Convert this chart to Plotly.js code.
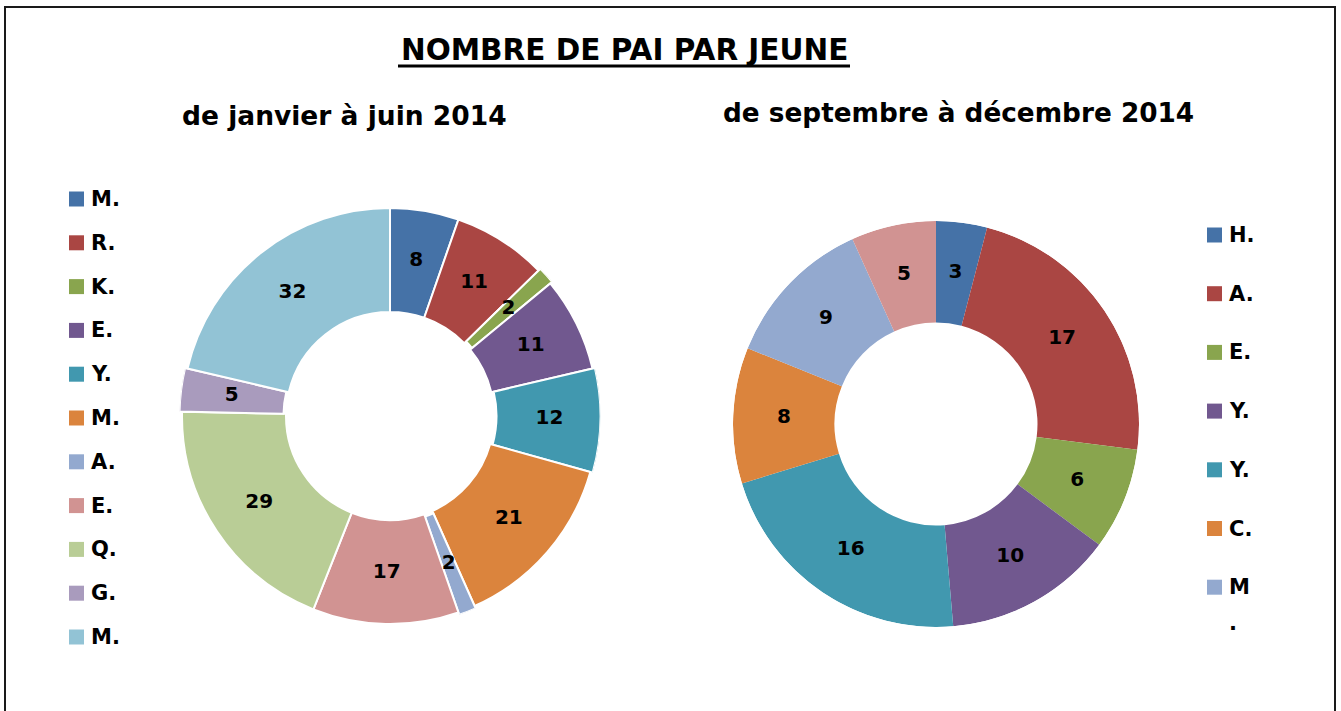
<!DOCTYPE html>
<html><head><meta charset="utf-8">
<script src="https://cdn.plot.ly/plotly-3.0.1.min.js"></script>
<style>html,body{margin:0;padding:0;background:#fff}#chart{width:1341px;height:711px}</style>
</head><body><div id="chart"></div>
<script>
// ---- data ----
const chartTitle = 'NOMBRE DE PAI PAR JEUNE';
const leftTitle = 'de janvier à juin 2014';
const rightTitle = 'de septembre à décembre 2014';
const leftLabels = ['M.', 'R.', 'K.', 'E.', 'Y.', 'M.', 'A.', 'E.', 'Q.', 'G.', 'M.'];
const leftValues = [8, 11, 2, 11, 12, 21, 2, 17, 29, 5, 32];
const rightLabels = ['H.', 'A.', 'E.', 'Y.', 'Y.', 'C.', 'M.']; // legend in source is cut after the 7th entry
const rightValues = [3, 17, 6, 10, 16, 8, 9, 5];

// ---- styles ----
const palette = ['#4572A7', '#AA4643', '#89A54E', '#71588F', '#4198AF', '#DB843D',
                 '#93A9CF', '#D19392', '#B9CD96', '#A99BBD', '#92C3D5'];
const leftColors = palette.slice(0, leftValues.length);
const rightColors = palette.slice(0, rightValues.length);
const leftPull = [0, 0, 0.012, 0, 0.012, 0, 0.012, 0, 0, 0.012, 0];
const rightPull = rightValues.map(() => 0);

const W = 1341, H = 711;
const FONT = 'DejaVu Sans, Verdana, sans-serif';
const HOLE = 0.5;
const px = x => x / W;
const py = y => 1 - y / H;

// donut slices: angular position/size on the polar angular axis, from the values
function sliceAngles(values) {
  const total = values.reduce((a, b) => a + b, 0);
  let cum = 0;
  const theta = [], width = [];
  values.forEach(v => {
    const w = v / total * 360;
    theta.push(cum + w / 2); width.push(w); cum += w;
  });
  return { theta, width };
}

function donut(values, colors, pull, subplot, lineW, labelR) {
  const a = sliceAngles(values);
  return [
    {
      type: 'barpolar', subplot: subplot,
      theta: a.theta, width: a.width,
      r: values.map(() => 1 - HOLE), base: pull.map(p => HOLE + p),
      marker: { color: colors, line: { color: '#fff', width: lineW } },
      hoverinfo: 'none', showlegend: false
    },
    {
      type: 'scatterpolar', subplot: subplot, mode: 'text',
      theta: a.theta, r: pull.map(p => labelR + p),
      text: values.map(String), textposition: 'middle center',
      textfont: { family: FONT, size: 20, color: '#000', weight: 'bold' },
      hoverinfo: 'none', showlegend: false
    }
  ];
}

function polarAt(cx, cy, r, maxR) {
  const half = r * maxR;
  return {
    domain: { x: [px(cx - half), px(cx + half)], y: [py(cy + half), py(cy - half)] },
    bgcolor: 'rgba(0,0,0,0)',
    radialaxis: { visible: false, range: [0, maxR] },
    angularaxis: { visible: false, rotation: 90, direction: 'clockwise', showline: false, showgrid: false },
    bargap: 0
  };
}

const traces = [].concat(
  donut(leftValues, leftColors, leftPull, 'polar', 2, 0.755),
  donut(rightValues, rightColors, rightPull, 'polar2', 0, 0.75)
);

const shapes = [
  {
    type: 'rect', xref: 'paper', yref: 'paper',
    x0: px(5), x1: px(1335), y0: py(730), y1: py(7),
    line: { color: '#1a1a1a', width: 2 }, fillcolor: 'rgba(0,0,0,0)'
  },
  // underline of the main title
  {
    type: 'line', xref: 'paper', yref: 'paper',
    x0: px(398), x1: px(850), y0: py(66), y1: py(66),
    line: { color: '#000', width: 3 }
  }
];
const annotations = [
  { text: chartTitle, x: px(624), y: py(50), font: { size: 29.5 } },
  { text: leftTitle, x: px(344), y: py(116), font: { size: 26.5 } },
  { text: rightTitle, x: px(958), y: py(113), font: { size: 26.3 } }
];

function legendSquare(color, x, cy) {
  shapes.push({
    type: 'rect', xref: 'paper', yref: 'paper',
    x0: px(x), x1: px(x + 15), y0: py(cy + 7.5), y1: py(cy - 7.5),
    fillcolor: color, line: { width: 0 }
  });
}
function legendText(text, x, cy) {
  annotations.push({ text: text, x: px(x), y: py(cy), xanchor: 'left', font: { size: 21 } });
}

leftLabels.forEach((lab, i) => {
  const cy = 199 + i * 43.8;
  legendSquare(leftColors[i], 69, cy);
  legendText(lab, 89, cy);
});
rightLabels.forEach((lab, i) => {
  const cy = 235 + i * 58.7;
  legendSquare(rightColors[i], 1207, cy);
  if (i === rightLabels.length - 1) {
    // the last visible entry wraps onto two lines in the source ("M" / ".")
    legendText(lab.slice(0, -1), 1227, cy);
    legendText(lab.slice(-1), 1227, cy + 36);
  } else {
    legendText(lab, 1227, cy);
  }
});

annotations.forEach(a => {
  a.xref = 'paper'; a.yref = 'paper'; a.showarrow = false;
  if (!a.xanchor) a.xanchor = 'center';
  a.yanchor = 'middle';
  a.font = Object.assign({ family: FONT, color: '#000', weight: 'bold' }, a.font);
});

const layout = {
  width: W, height: H, margin: { l: 0, r: 0, t: 0, b: 0 },
  paper_bgcolor: '#fff', plot_bgcolor: '#fff',
  font: { family: FONT, color: '#000' },
  polar: polarAt(390, 416, 208, 1 + Math.max(...leftPull)),
  polar2: polarAt(936, 424, 203, 1 + Math.max(...rightPull)),
  shapes: shapes, annotations: annotations, showlegend: false
};

Plotly.newPlot('chart', traces, layout, { staticPlot: true, displayModeBar: false });
</script>
</body></html>
